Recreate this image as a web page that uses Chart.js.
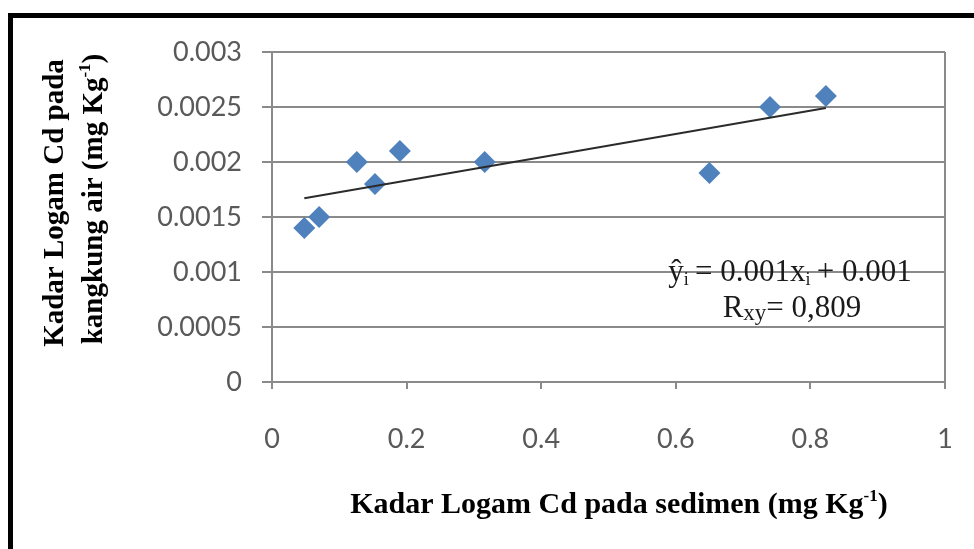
<!DOCTYPE html>
<html lang="id">
<head>
    <meta charset="UTF-8">
    <title>Kadar Logam Cd</title>
    <script src="https://cdn.jsdelivr.net/npm/chart.js"></script>
    <style>
        body { margin: 0; background: #fff; }
        #wrap { width: 974px; height: 549px; }
    </style>
</head>
<body>
    <div id="wrap"><canvas id="cdChart" width="974" height="549"></canvas></div>

    <script>
        // Data
        const sedimen = [0.048, 0.070, 0.126, 0.153, 0.190, 0.316, 0.650, 0.740, 0.823];
        const kangkung = [0.0014, 0.0015, 0.0020, 0.0018, 0.0021, 0.0020, 0.0019, 0.0025, 0.0026];
        // trend line end points as drawn
        const trendX = [0.048, 0.823];
        const trendY = [0.00167, 0.00249];
        const xTickLabels = ['0', '0.2', '0.4', '0.6', '0.8', '1'];
        const yTickLabels = ['0', '0.0005', '0.001', '0.0015', '0.002', '0.0025', '0.003'];

        const gridGray = '#8a8a8a';

        // draws a run of text pieces, some raised or lowered
        function drawRuns(ctx, runs, x, y, align) {
            let total = 0;
            runs.forEach(r => { ctx.font = r.font; total += ctx.measureText(r.t).width; });
            let cx = align === 'center' ? x - total / 2 : x;
            runs.forEach(r => {
                ctx.font = r.font;
                ctx.fillText(r.t, cx, y + (r.dy || 0));
                cx += ctx.measureText(r.t).width;
            });
        }

        const extras = {
            id: 'extras',
            afterDraw(chart) {
                const ctx = chart.ctx;
                ctx.save();
                // frame lines (top and left)
                ctx.fillStyle = '#000';
                ctx.fillRect(8, 13, 966, 5);
                ctx.fillRect(8, 13, 5, 536);

                ctx.fillStyle = '#000';
                ctx.textAlign = 'left';
                ctx.textBaseline = 'alphabetic';
                const big = 'bold 30px "Liberation Serif", "Times New Roman", serif';
                const yBig = 'bold 29px "Liberation Serif", "Times New Roman", serif';
                const sup = 'bold 17px "Liberation Serif", "Times New Roman", serif';

                // x axis title
                drawRuns(ctx, [
                    { t: 'Kadar Logam Cd pada sedimen (mg Kg', font: big },
                    { t: '-1', font: sup, dy: -12 },
                    { t: ')', font: big }
                ], 619, 513, 'center');

                // y axis title, two lines
                ctx.save();
                ctx.translate(63, 203);
                ctx.rotate(-Math.PI / 2);
                drawRuns(ctx, [{ t: 'Kadar Logam Cd pada', font: yBig }], 0, 0, 'center');
                ctx.restore();
                ctx.save();
                ctx.translate(102, 199);
                ctx.rotate(-Math.PI / 2);
                drawRuns(ctx, [
                    { t: 'kangkung air (mg Kg', font: yBig },
                    { t: '-1', font: sup, dy: -12 },
                    { t: ')', font: yBig }
                ], 0, 0, 'center');
                ctx.restore();

                // regression text
                ctx.fillStyle = '#1a1a1a';
                const f = '31px "Liberation Serif", "Times New Roman", serif';
                const fs = '18px "Liberation Serif", "Times New Roman", serif';
                drawRuns(ctx, [
                    { t: 'ŷ', font: f },
                    { t: 'i', font: fs, dy: 4 },
                    { t: '\u2009= 0.001x', font: f },
                    { t: 'i', font: fs, dy: 4 },
                    { t: '\u2009+ 0.001', font: f }
                ], 790, 281, 'center');
                drawRuns(ctx, [
                    { t: 'R', font: f },
                    { t: 'xy', font: '23px "Liberation Serif", serif', dy: 3 },
                    { t: '= 0,809', font: f }
                ], 792, 317, 'center');
                ctx.restore();
            }
        };

        new Chart(document.getElementById('cdChart'), {
            type: 'scatter',
            data: {
                datasets: [{
                    label: 'Cd',
                    data: sedimen.map((x, i) => ({ x: x, y: kangkung[i] })),
                    pointStyle: 'rectRot',
                    pointRadius: 11,
                    pointHoverRadius: 11,
                    backgroundColor: '#4F81BD',
                    borderColor: '#4F81BD',
                    borderWidth: 0,
                    order: 2
                }, {
                    label: 'Trend',
                    type: 'line',
                    data: trendX.map((x, i) => ({ x: x, y: trendY[i] })),
                    borderColor: '#2b2b2b',
                    borderWidth: 2,
                    pointRadius: 0,
                    fill: false,
                    order: 1
                }]
            },
            options: {
                responsive: false,
                animation: false,
                events: [],
                layout: { padding: { top: 52, right: 29, left: 0, bottom: 0 } },
                plugins: {
                    legend: { display: false },
                    tooltip: { enabled: false }
                },
                scales: {
                    x: {
                        type: 'linear',
                        min: 0,
                        max: 1,
                        afterFit: s => {
                            s.height = 167;
                            s.paddingLeft = 0;
                            s.paddingRight = 0;
                        },
                        ticks: {
                            stepSize: 0.2,
                            padding: 34,
                            color: '#595959',
                            font: { family: 'Lato', size: 27 },
                            callback: (v, i) => xTickLabels[i]
                        },
                        grid: {
                            drawOnChartArea: true,
                            color: c => (c.tick && c.tick.value === 1) ? gridGray : 'rgba(0,0,0,0)',
                            tickColor: gridGray,
                            tickLength: 7,
                            lineWidth: 2
                        },
                        border: { color: gridGray, width: 2 }
                    },
                    y: {
                        min: 0,
                        max: 0.003,
                        afterFit: s => { s.width = 272; },
                        ticks: {
                            stepSize: 0.0005,
                            padding: 20,
                            color: '#595959',
                            font: { family: 'Lato', size: 27 },
                            callback: (v, i) => yTickLabels[i]
                        },
                        grid: {
                            color: gridGray,
                            tickColor: gridGray,
                            tickLength: 10,
                            lineWidth: 2
                        },
                        border: { color: gridGray, width: 2 }
                    }
                }
            },
            plugins: [extras]
        });
    </script>
</body>
</html>
